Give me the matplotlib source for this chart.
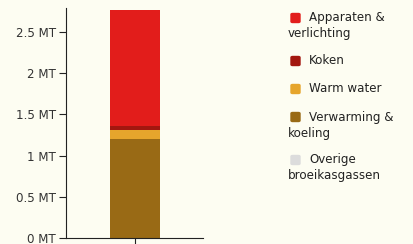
import matplotlib
matplotlib.use("Agg")
import matplotlib.pyplot as plt
from matplotlib.patches import FancyBboxPatch

# Emissions per category (megaton), stacked bottom -> top
categories = ["Verwarming &\nkoeling", "Warm water", "Koken",
              "Apparaten &\nverlichting", "Overige\nbroeikasgassen"]
values = [1.20, 0.11, 0.05, 1.41, 0.0]
colors = ["#996a15", "#e6a52c", "#a3170f", "#e21d1b", "#dcdcdc"]

legend_order = ["Apparaten &\nverlichting", "Koken", "Warm water",
                "Verwarming &\nkoeling", "Overige\nbroeikasgassen"]

yticks = [0, 0.5, 1, 1.5, 2, 2.5]
ytick_labels = ["0 MT", "0.5 MT", "1 MT", "1.5 MT", "2 MT", "2.5 MT"]

bg = "#fdfdf2"
fig = plt.figure(figsize=(4.13, 2.44), dpi=100)
fig.patch.set_facecolor(bg)
ax = fig.add_axes([0.16, 0.025, 0.332, 0.942])
ax.set_facecolor(bg)

bottom = 0
for val, col in zip(values, colors):
    ax.bar(0, val, width=0.5, bottom=bottom, color=col, linewidth=0)
    bottom += val

ax.set_xlim(-0.69, 0.68)
ax.set_ylim(0, 2.79)
ax.set_yticks(yticks)
ax.set_yticklabels(ytick_labels, fontsize=8.6, color="#333333")
ax.set_xticks([0])
ax.set_xticklabels([""])
ax.tick_params(axis="both", length=5, width=0.8, color="#222222", pad=2.5)
ax.spines["top"].set_visible(False)
ax.spines["right"].set_visible(False)
for s in ("left", "bottom"):
    ax.spines[s].set_color("#222222")
    ax.spines[s].set_linewidth(0.8)

# custom legend on the right
W, H = 413, 244
color_map = dict(zip(categories, colors))
row_y = [18, 61, 89, 117, 160]
for label, y in zip(legend_order, row_y):
    fig.patches.append(FancyBboxPatch((291 / W, 1 - (y + 4.5) / H), 9 / W, 9 / H,
                                      boxstyle="round,pad=0,rounding_size=0.004",
                                      transform=fig.transFigure,
                                      color=color_map[label]))
    first, *rest = label.split("\n")
    fig.text(309 / W, 1 - y / H, first, fontsize=8.6, color="#222222", va="center")
    for i, line in enumerate(rest):
        fig.text(288 / W, 1 - (y + 16 * (i + 1)) / H, line, fontsize=8.6,
                 color="#222222", va="center")

fig.savefig("out.png", dpi=100, facecolor=bg)
